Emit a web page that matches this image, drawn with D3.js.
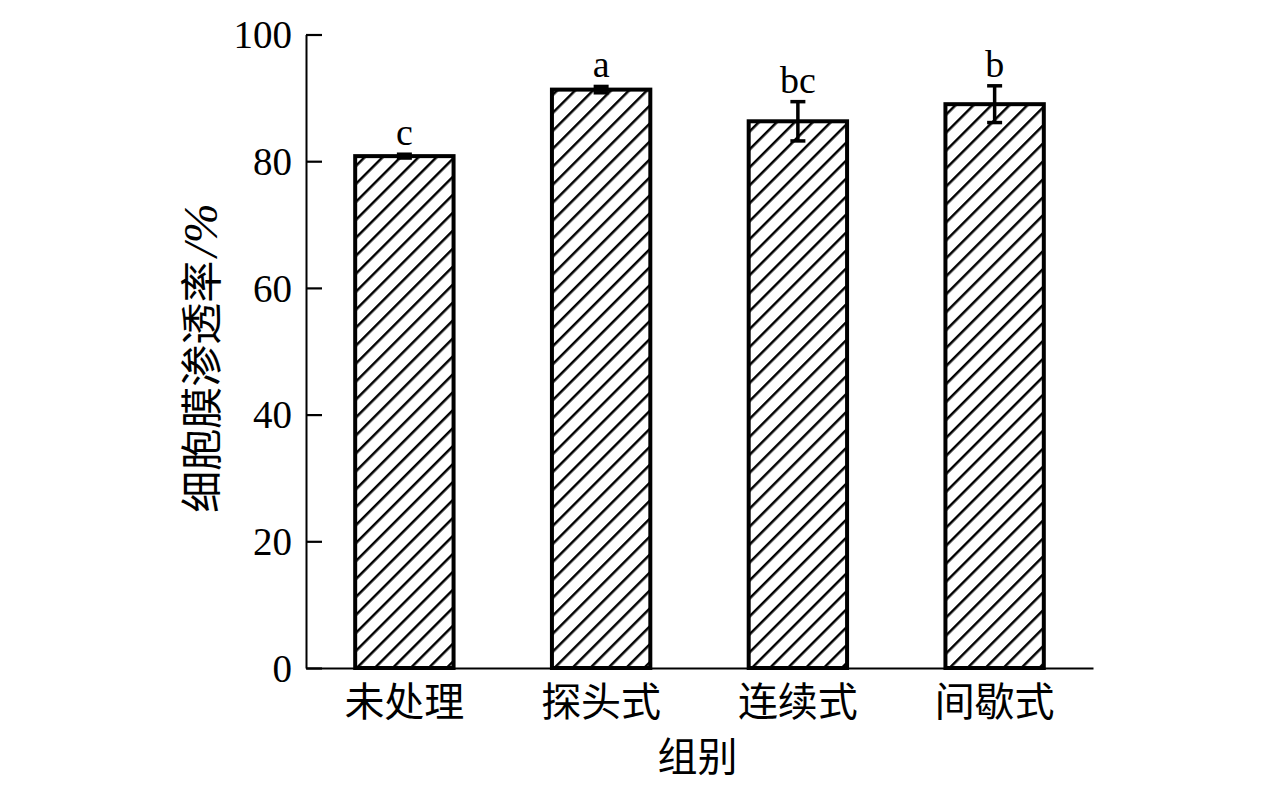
<!DOCTYPE html>
<meta charset="utf-8">
<title>细胞膜渗透率</title>
<script src="https://d3js.org/d3.v7.min.js"></script>
<style>
body { margin: 0; background: #fff; }
</style>
<div id="chart"></div>
<script>
// data
const groups = ["未处理", "探头式", "连续式", "间歇式"];
const values = [80.8, 91.3, 86.3, 89.0];
const errors = [0.3, 0.5, 3.1, 2.9];
const letters = ["c", "a", "bc", "b"];
const yTicks = [0, 20, 40, 60, 80, 100];

const W = 1276, H = 786;
const margin = {top: 34.5, right: 183, bottom: 118, left: 306};
const width = W - margin.left - margin.right,
      height = H - margin.top - margin.bottom;

const serif = "'Liberation Serif', 'Times New Roman', serif";
const cjk = "'Noto Sans CJK SC', sans-serif";

const svg = d3.select("#chart")
    .append("svg")
    .attr("width", W)
    .attr("height", H);

// hatch fill
svg.append("defs")
    .append("pattern")
    .attr("id", "hatch")
    .attr("patternUnits", "userSpaceOnUse")
    .attr("width", 12.7)
    .attr("height", 12.7)
    .attr("patternTransform", "rotate(45)")
    .append("line")
    .attr("x1", 0).attr("y1", 0)
    .attr("x2", 0).attr("y2", 12.7)
    .attr("stroke", "#000")
    .attr("stroke-width", 5);

const g = svg.append("g")
    .attr("transform", `translate(${margin.left}, ${margin.top})`);

const x = d3.scaleBand()
    .domain(groups)
    .range([0, width])
    .paddingInner(0.5)
    .paddingOuter(0.25);

const y = d3.scaleLinear()
    .domain([0, 100])
    .range([height, 0]);

// bars
g.selectAll("rect.bar")
    .data(groups)
    .enter()
    .append("rect")
    .attr("class", "bar")
    .attr("x", d => x(d))
    .attr("y", (d, i) => y(values[i]))
    .attr("width", x.bandwidth())
    .attr("height", (d, i) => y(0) - y(values[i]))
    .attr("fill", "url(#hatch)")
    .attr("stroke", "#000")
    .attr("stroke-width", 4);

// error bars
const eb = g.selectAll("g.err")
    .data(groups)
    .enter()
    .append("g")
    .attr("class", "err")
    .attr("stroke", "#000")
    .attr("stroke-width", 3.5);

const cx = d => x(d) + x.bandwidth() / 2;
eb.append("line")
    .attr("x1", cx).attr("x2", cx)
    .attr("y1", (d, i) => y(values[i] + errors[i]))
    .attr("y2", (d, i) => y(values[i] - errors[i]));
eb.append("line")
    .attr("x1", d => cx(d) - 7.5).attr("x2", d => cx(d) + 7.5)
    .attr("y1", (d, i) => y(values[i] + errors[i]))
    .attr("y2", (d, i) => y(values[i] + errors[i]));
eb.append("line")
    .attr("x1", d => cx(d) - 7.5).attr("x2", d => cx(d) + 7.5)
    .attr("y1", (d, i) => y(values[i] - errors[i]))
    .attr("y2", (d, i) => y(values[i] - errors[i]));

// significance letters
g.selectAll("text.sig")
    .data(groups)
    .enter()
    .append("text")
    .attr("class", "sig")
    .attr("x", cx)
    .attr("y", (d, i) => y(values[i] + errors[i]) - 9)
    .attr("text-anchor", "middle")
    .style("font-family", serif)
    .style("font-size", "38px")
    .text((d, i) => letters[i]);

// y axis
const yAxis = g.append("g")
    .call(d3.axisLeft(y).tickValues(yTicks).tickSize(-16).tickSizeOuter(0));
yAxis.select(".domain").attr("stroke-width", 2);
yAxis.selectAll(".tick line").attr("stroke-width", 2.2);
yAxis.selectAll(".tick text")
    .style("font-family", serif)
    .style("font-size", "39px")
    .attr("x", -14)
    .attr("dy", "0.34em")
    .attr("fill", "#000");

// x axis
const xAxis = g.append("g")
    .attr("transform", `translate(0, ${height})`)
    .call(d3.axisBottom(x).tickSize(0).tickPadding(20).tickSizeOuter(0));
xAxis.select(".domain").attr("stroke-width", 2);
xAxis.selectAll(".tick text")
    .style("font-family", cjk)
    .style("font-size", "40px")
    .attr("fill", "#000");

// axis titles
svg.append("text")
    .attr("x", margin.left + width / 2 - 2)
    .attr("y", 771)
    .attr("text-anchor", "middle")
    .style("font-family", cjk)
    .style("font-size", "40px")
    .text("组别");

const yt = svg.append("text")
    .attr("transform", `translate(217, 358) rotate(-90)`)
    .attr("text-anchor", "middle")
    .style("font-size", "42px");
yt.append("tspan").style("font-family", cjk).text("细胞膜渗透率");
yt.append("tspan").style("font-family", serif).style("font-style", "italic")
    .style("font-size", "48px").attr("dx", 4).text("/%");
</script>
